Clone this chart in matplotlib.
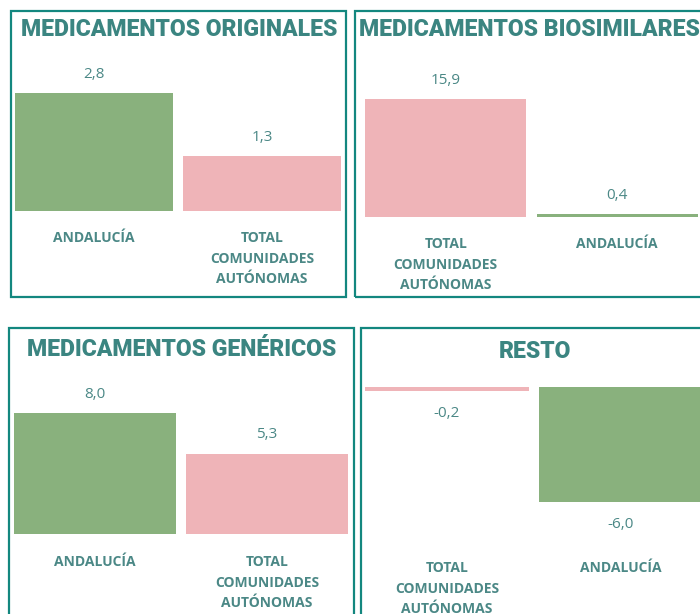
import matplotlib.pyplot as plt
from matplotlib.patches import Rectangle

# data
titles = ["MEDICAMENTOS ORIGINALES", "MEDICAMENTOS BIOSIMILARES",
          "MEDICAMENTOS GENÉRICOS", "RESTO"]
TOTAL = "TOTAL\nCOMUNIDADES\nAUTÓNOMAS"
cats_originales = ["ANDALUCÍA", TOTAL]
vals_originales = [2.8, 1.3]
cats_biosimilares = [TOTAL, "ANDALUCÍA"]
vals_biosimilares = [15.9, 0.4]
cats_genericos = ["ANDALUCÍA", TOTAL]
vals_genericos = [8.0, 5.3]
cats_resto = [TOTAL, "ANDALUCÍA"]
vals_resto = [-0.2, -6.0]

GREEN = "#89b17d"
PINK = "#efb4b8"
BORDER = "#13877f"
TITLE_C = "#3b8581"
TEXT_C = "#4b8886"

W, H = 700, 614
fig = plt.figure(figsize=(W / 100, H / 100), dpi=100)
fig.patch.set_facecolor("white")


def fx(x):
    return x / W


def fy(y):
    return 1 - y / H


# layout per panel (pixels): border box, title pos, axes x range / y range, category label y
panels = [
    dict(cats=cats_originales, vals=vals_originales, title=titles[0],
         border=(11, 11, 346, 297), title_xy=(179, 30), title_ha="center",
         ax_x=(10, 346), ax_y=(93, 211), cat_y=231),
    dict(cats=cats_biosimilares, vals=vals_biosimilares, title=titles[1],
         border=(355, 11, 720, 297), title_xy=(359, 30), title_ha="left",
         ax_x=(360, 703), ax_y=(99, 217), cat_y=237),
    dict(cats=cats_genericos, vals=vals_genericos, title=titles[2],
         border=(9, 328, 354, 640), title_xy=(182, 349), title_ha="center",
         ax_x=(9, 353), ax_y=(413, 534), cat_y=555),
    dict(cats=cats_resto, vals=vals_resto, title=titles[3],
         border=(361, 328, 720, 640), title_xy=(535, 352), title_ha="center",
         ax_x=(360, 708), ax_y=(387, 502), cat_y=561),
]

title_font = dict(family=["Roboto", "DejaVu Sans"], weight="black", size=16.6)
label_font = dict(family=["Open Sans", "DejaVu Sans"], size=11)

for p in panels:
    bx0, by0, bx1, by1 = p["border"]
    fig.patches.append(Rectangle((fx(bx0), fy(by1)), fx(bx1 - bx0), (by1 - by0) / H,
                                 transform=fig.transFigure, fill=False,
                                 edgecolor=BORDER, linewidth=1.6))
    fig.text(fx(p["title_xy"][0]), fy(p["title_xy"][1]), p["title"], ha=p["title_ha"],
             va="center", color=TITLE_C, **title_font)

    x0, x1 = p["ax_x"]
    y0, y1 = p["ax_y"]
    ax = fig.add_axes([fx(x0), fy(y1), fx(x1 - x0), (y1 - y0) / H])
    ax.set_axis_off()
    vals = p["vals"]
    colors = [GREEN if c == "ANDALUCÍA" else PINK for c in p["cats"]]
    xs = list(range(len(vals)))
    ax.bar(xs, vals, width=0.94, color=colors)
    ax.set_xlim(-0.5, len(vals) - 0.5)
    ax.set_ylim(min(0, min(vals)), max(0, max(vals)))
    for x, v in zip(xs, vals):
        off = 19 if v >= 0 else -23
        ax.annotate(f"{v:.1f}".replace(".", ","), (x, v), xytext=(0, off),
                    textcoords="offset pixels", ha="center", va="center",
                    color=TEXT_C, annotation_clip=False, **label_font)
    for x, c in zip(xs, p["cats"]):
        xf = ax.transData.transform((x, 0))[0]
        fig.text(xf / fig.dpi / fig.get_figwidth(), fy(p["cat_y"]), c, ha="center",
                 va="top", color=TEXT_C, linespacing=1.6,
                 family=["Open Sans", "DejaVu Sans"], weight="bold", size=10)

fig.savefig("out.png", dpi=100, facecolor="white")
